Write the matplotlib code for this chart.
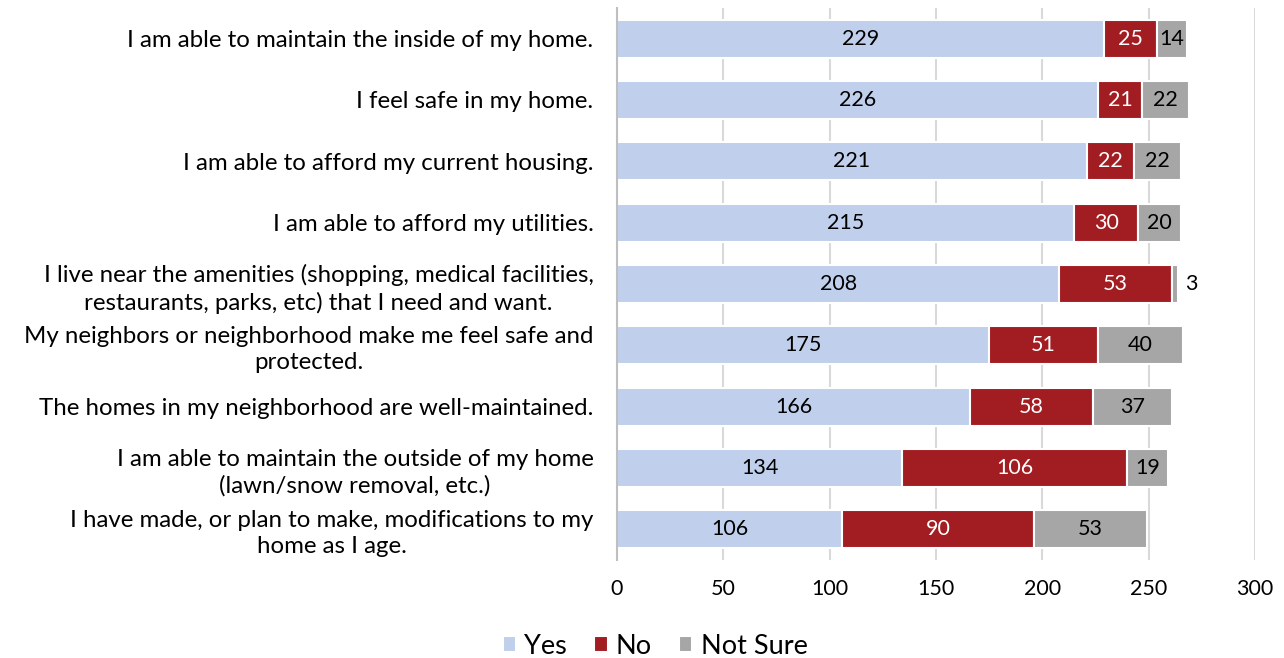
import matplotlib
matplotlib.use("Agg")
import matplotlib.pyplot as plt
import numpy as np

categories = [
    "I am able to maintain the inside of my home.",
    "I feel safe in my home.",
    "I am able to afford my current housing.",
    "I am able to afford my utilities.",
    "I live near the amenities (shopping, medical facilities,\nrestaurants, parks, etc) that I need and want.",
    "My neighbors or neighborhood make me feel safe and\nprotected.",
    "The homes in my neighborhood are well-maintained.",
    "I am able to maintain the outside of my home\n(lawn/snow removal, etc.)",
    "I have made, or plan to make, modifications to my\nhome as I age.",
]
yes = [229, 226, 221, 215, 208, 175, 166, 134, 106]
no = [25, 21, 22, 30, 53, 51, 58, 106, 90]
not_sure = [14, 22, 22, 20, 3, 40, 37, 19, 53]
series_names = ["Yes", "No", "Not Sure"]
colors = ["#C0CFEB", "#A21D22", "#A6A6A6"]
text_colors = ["black", "white", "black"]
xticks = [0, 50, 100, 150, 200, 250, 300]

plt.rcParams['font.family'] = ['Lato', 'DejaVu Sans']

fig = plt.figure(figsize=(12.84, 6.58), dpi=100)
ax = fig.add_axes([617/1284, 1 - 560/658, (1255-617)/1284, (560-8)/658])

y = np.arange(len(categories))
left = np.zeros(len(categories))
for vals, name, c, tc in zip([yes, no, not_sure], series_names, colors, text_colors):
    vals = np.array(vals, dtype=float)
    ax.barh(y, vals, left=left, height=0.62, color=c, edgecolor="white",
            linewidth=1.5, label=name, zorder=3)
    for yi, l, v in zip(y, left, vals):
        if v >= 10:
            ax.text(l + v / 2, yi, f"{int(v)}", ha="center", va="center",
                    color=tc, fontsize=15.5, zorder=4)
        else:
            ax.text(l + v + 3, yi, f"{int(v)}", ha="left", va="center",
                    color="black", fontsize=15.5, zorder=4)
    left += vals

ax.set_ylim(len(categories) - 0.5, -0.5)
ax.set_xlim(0, 300)
ax.set_xticks(xticks)
ax.set_xticklabels([str(t) for t in xticks], fontsize=15.5)
ax.set_yticks(y)
ax.set_yticklabels(categories, fontsize=17.3, ha="right", multialignment="center",
                   linespacing=1.3)
ax.tick_params(axis="y", length=0, pad=17)
ax.tick_params(axis="x", length=0, pad=14)

ax.grid(axis="x", color="#D9D9D9", linewidth=1.5, zorder=0)
for s in ["top", "right", "bottom"]:
    ax.spines[s].set_visible(False)
ax.spines["left"].set_color("#BFBFBF")
ax.spines["left"].set_linewidth(1.5)
ax.spines["left"].set_zorder(5)

handles, labels = ax.get_legend_handles_labels()
fig.legend(handles, labels, loc="center", bbox_to_anchor=(655/1284, 1 - 646/658),
           ncol=3, frameon=False, fontsize=19.5, handlelength=0.5, handleheight=0.5,
           handletextpad=0.3, columnspacing=1.0)

fig.savefig("out.png", dpi=100)
